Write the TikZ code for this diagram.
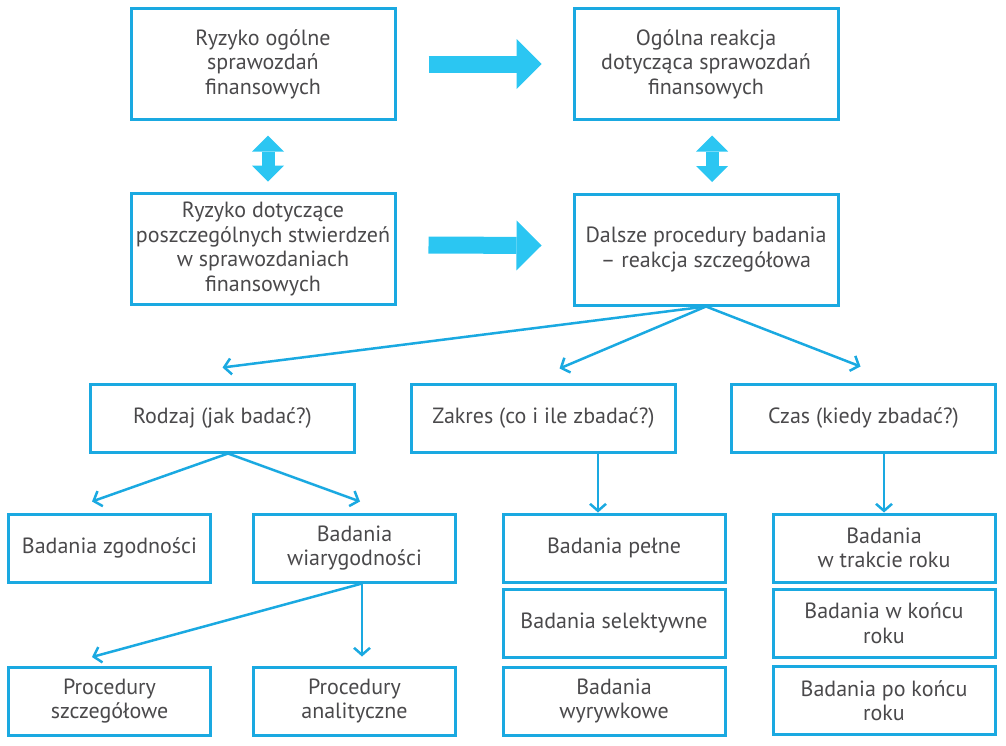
\documentclass[tikz,border=0pt]{standalone}
\usepackage{fontspec}
\setmainfont{PT Sans}
\usepackage{xcolor}
\usetikzlibrary{arrows.meta}
\definecolor{boxblue}{HTML}{1AA9E1}
\definecolor{arrowcyan}{HTML}{2BC6F2}
\definecolor{textgray}{HTML}{4A494B}

\begin{document}
\begin{tikzpicture}[x=1pt, y=-1pt,
		box/.style={draw=boxblue, line width=3pt, align=center, text=textgray, font=\fontsize{22}{24.5}\selectfont, inner sep=0pt, minimum width=264pt},
		tall/.style={minimum height=111pt},
		flat/.style={minimum height=68pt},
		small/.style={minimum width=202pt},
		mid/.style={minimum width=222pt},
		fat/.style={arrowcyan, line width=17pt, -{Triangle[length=25pt, width=50pt, line width=0pt]}},
		fatboth/.style={arrowcyan, line width=13pt, {Triangle[length=16pt, width=32pt, line width=0pt]}-{Triangle[length=16pt, width=32pt, line width=0pt]}},
		link/.style={boxblue, line width=2.5pt, -{Straight Barb[length=7pt, width=16pt]}}]
				\useasboundingbox (0,0) rectangle (1006,745);
				% risk and response
				\node[box, tall] (ogolne)       at (263,64)    {Ryzyko ogólne\\sprawozdań\\finansowych};
				\node[box, tall] (reakcja)      at (706,64)    {Ogólna reakcja\\dotycząca sprawozdań\\finansowych};
				\node[box, tall] (stwierdzenia) at (263,249)   {Ryzyko dotyczące\\poszczególnych stwierdzeń\\w sprawozdaniach\\finansowych};
				\node[box, tall] (dalsze)       at (706,249.5) {Dalsze procedury badania\\– reakcja szczegółowa};
				% rodzaj, zakres, czas
				\node[box, flat] (rodzaj) at (222.5,418) {Rodzaj (jak badać?)};
				\node[box, flat] (zakres) at (543.5,418) {Zakres (co i ile zbadać?)};
				\node[box, flat] (czas)   at (863.5,418) {Czas (kiedy zbadać?)};
				% badania
				\node[box, flat, small] (zgodnosc)     at (109.5,548) {Badania zgodności};
				\node[box, flat, small] (wiarygodnosc) at (354.5,548) {Badania\\wiarygodności};
				\node[box, flat, mid]   (pelne)        at (614,548)   {Badania pełne};
				\node[box, flat, mid]   (selektywne)   at (614,623)   {Badania selektywne};
				\node[box, flat, mid]   (wyrywkowe)    at (614,701)   {Badania\\wyrywkowe};
				\node[box, flat, mid]   (wtrakcie)     at (884,548)   {Badania\\w trakcie roku};
				\node[box, flat, mid]   (wkoncu)       at (884,623)   {Badania w końcu\\roku};
				\node[box, flat, mid]   (pokoncu)      at (884,700.5) {Badania po końcu\\roku};
				\node[box, flat, small] (szczegolowe)  at (109.5,701) {Procedury\\szczegółowe};
				\node[box, flat, small] (analityczne)  at (354.5,701) {Procedury\\analityczne};
				% block arrows
				\draw[fat] ([xshift=32pt]ogolne.east) -- ([xshift=-31pt]reakcja.west);
				\draw[fat] ([xshift=32pt,yshift=4pt]stwierdzenia.east) -- ([xshift=-31pt,yshift=4pt]dalsze.west);
				\draw[fatboth] ([xshift=5pt,yshift=-14.5pt]ogolne.south) -- ([xshift=5pt,yshift=10.5pt]stwierdzenia.north);
				\draw[fatboth] ([xshift=6pt,yshift=-14.5pt]reakcja.south) -- ([xshift=6pt,yshift=10.5pt]dalsze.north);
				% thin arrows
				\draw[link] (dalsze.south) -- ([yshift=15pt]rodzaj.north);
				\draw[link] (dalsze.south) -- ([xshift=16pt,yshift=14pt]zakres.north);
				\draw[link] (dalsze.south) -- ([xshift=-3pt,yshift=16pt]czas.north);
				\draw[link] ([xshift=5.5pt]rodzaj.south) -- ([xshift=-17.5pt,yshift=11pt]zgodnosc.north);
				\draw[link] ([xshift=5.5pt]rodzaj.south) -- ([xshift=5.5pt,yshift=11pt]wiarygodnosc.north);
				\draw[link] ([xshift=54.5pt]zakres.south) -- ([xshift=-16pt]pelne.north);
				\draw[link] (czas.south -| wtrakcie.north) -- (wtrakcie.north);
				\draw[link] ([xshift=7.5pt]wiarygodnosc.south) -- ([xshift=-17.5pt,yshift=8.5pt]szczegolowe.north);
				\draw[link] ([xshift=7.5pt]wiarygodnosc.south) -- ([xshift=7.5pt,yshift=9pt]analityczne.north);
			\end{tikzpicture}
\end{document}
